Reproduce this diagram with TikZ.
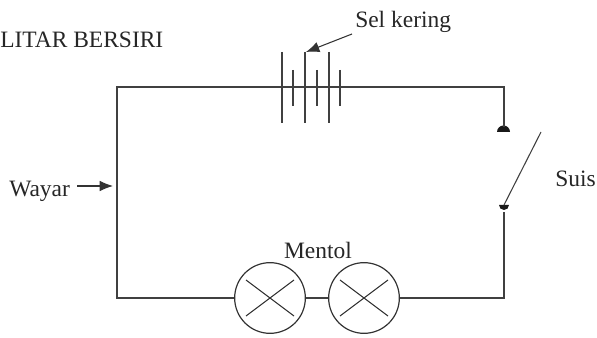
\documentclass[tikz,border=0pt]{standalone}
\usepackage{fontspec}
\setmainfont{Liberation Serif}
\usetikzlibrary{arrows.meta,positioning,calc}
\tikzset{
    wire/.style={line width=0.9pt, black!75},
    plate/.style={line width=0.8pt, black!75},
    pointer/.style={-{Latex[length=10pt, width=8pt]}, line width=0.8pt, black!80},
    lamp/.style={draw=black!80, line width=0.9pt, circle, minimum size=53pt, inner sep=0pt,
        path picture={
            \draw[black!80, line width=0.8pt] ($(path picture bounding box.center)+(-18pt,13.5pt)$) -- ($(path picture bounding box.center)+(18pt,-13.5pt)$);
            \draw[black!80, line width=0.8pt] ($(path picture bounding box.center)+(-18pt,-13.5pt)$) -- ($(path picture bounding box.center)+(18pt,13.5pt)$);
        }},
    label/.style={inner sep=0pt, text=black!85, font=\fontsize{17.6pt}{20pt}\selectfont}
}

\begin{document}
\begin{tikzpicture}[x=0.75pt, y=-0.75pt]
            \useasboundingbox (0,0) rectangle (597,338);
            % corners of the circuit
            \coordinate (TL) at (117,87);
            \coordinate (TR) at (504,87);
            \coordinate (BL) at (117,298);
            \coordinate (BR) at (504,298);
            % lamps and contacts
            \node[lamp] (M1) at (270,298) {};
            \node[lamp] (M2) at (364,298) {};
            \coordinate (S1) at (504,127);
            \coordinate (S2) at (504,212);
            \fill[black!90] (497,132) arc[start angle=180, end angle=360, radius=6.5] -- cycle;
            \fill[black!90] (499,205) arc[start angle=180, end angle=0, radius=5] -- cycle;
            % wire
            \draw[wire] (S1) -- (TR) -- (TL) -- (BL) -- (M1);
            \draw[wire] (M1) -- (M2);
            \draw[wire] (M2) -- (BR) -- (S2);
            % switch blade
            \coordinate (B1) at (504,205);
            \coordinate (B2) at (541,132);
            \draw[plate] (B1) -- (B2);
            % cells
            \foreach \x in {282,305,329} {
                \draw[plate] (\x,52) -- (\x,123);
            }
            \foreach \x in {293,317,340} {
                \draw[plate] (\x,70) -- (\x,106);
            }
            % labels
            \node[label, anchor=west] (title) at (0,40) {LITAR BERSIRI};
            \node[label, anchor=west] (sel) at (355,22) {Sel kering};
            \node[label, anchor=west] (wayar) at (9,191) {Wayar};
            \node[label, anchor=west] (suis) at (555,179) {Suis};
            \node[label] (mentol) at (318,250) {Mentol};
            % pointers
            \coordinate (cell) at (306,52);
            \coordinate (wireL) at (113,186);
            \draw[pointer] (352,34) -- (cell);
            \draw[pointer] (77,186) -- (wireL);
        \end{tikzpicture}
\end{document}
